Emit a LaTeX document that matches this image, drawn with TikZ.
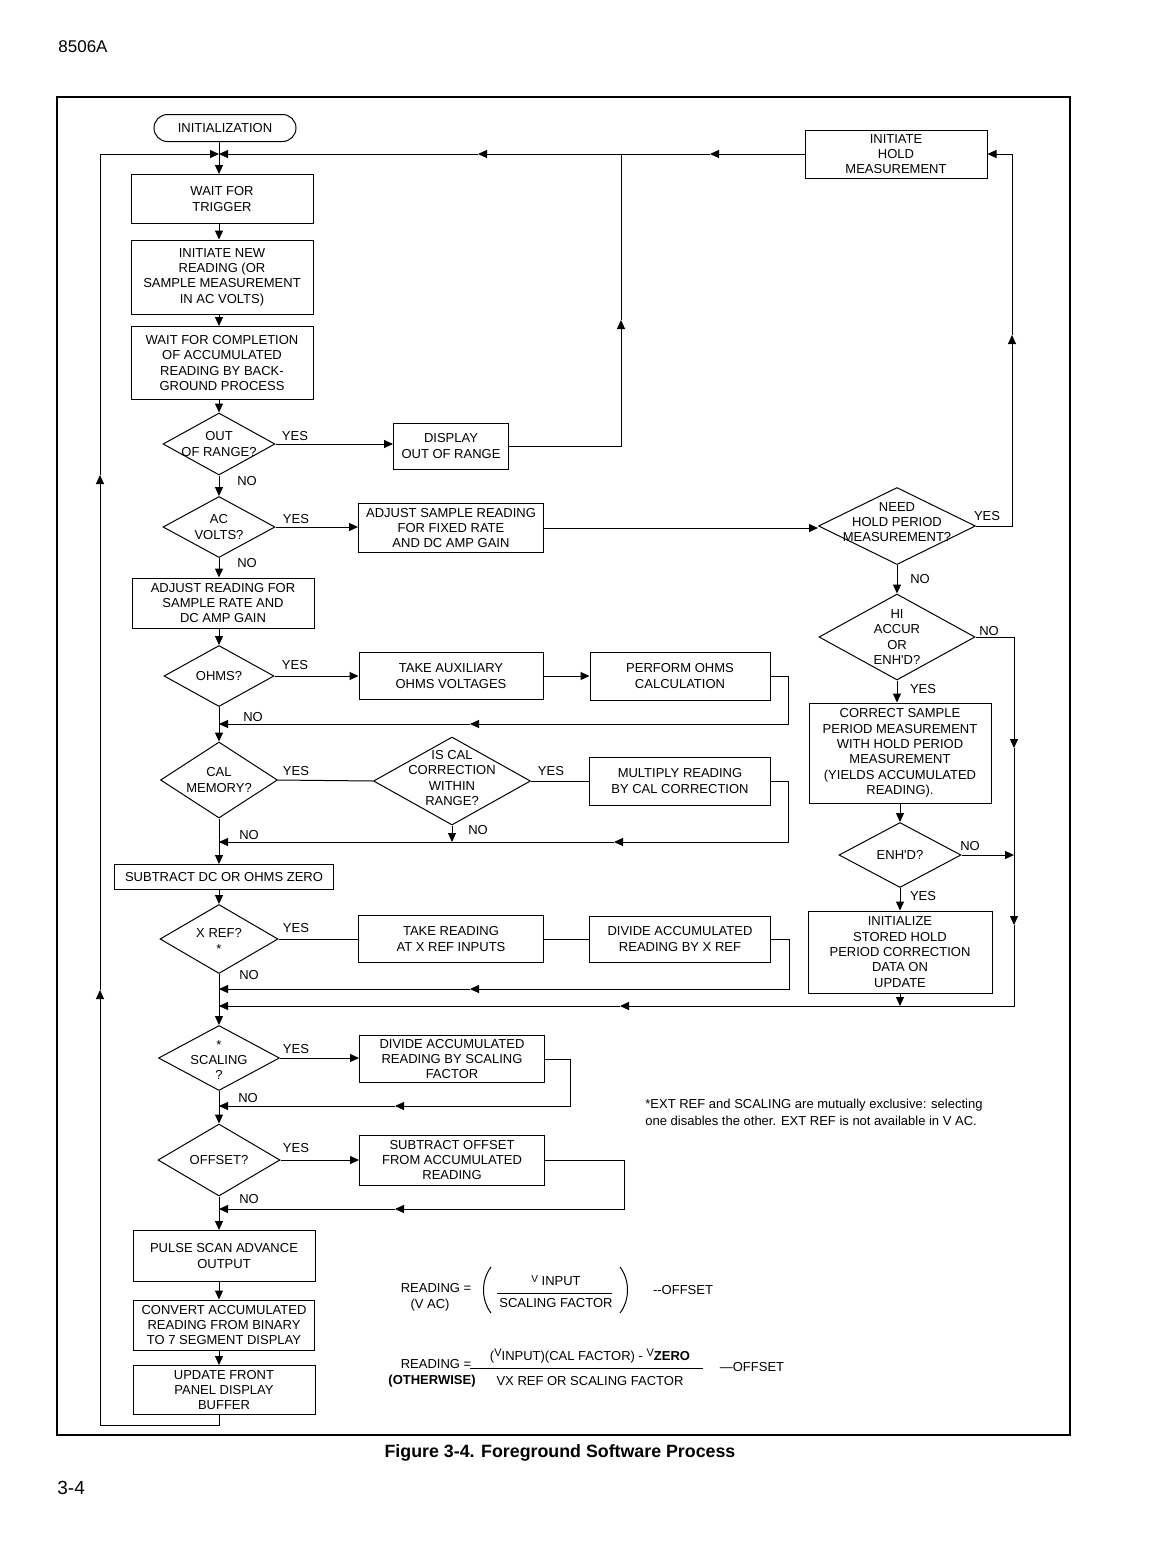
\documentclass[tikz,border=0pt]{standalone}
\usepackage{fontspec}
\newfontfamily\lab{Liberation Sans}
\usetikzlibrary{shapes.geometric,shapes.misc,arrows.meta}
\begin{document}
\begin{tikzpicture}[x=0.5pt,y=-0.5pt,
  every node/.style={font=\lab\fontsize{6.5}{7.7}\selectfont},
  box/.style 2 args={draw, line width=0.5pt, align=center, inner sep=0pt, minimum width=#1*0.5pt, minimum height=#2*0.5pt},
  dia/.style 2 args={draw, diamond, line width=0.5pt, inner sep=0pt, minimum width=#1*0.5pt, minimum height=#2*0.5pt},
  lbl/.style={align=center, inner sep=0pt},
  ln/.style={line width=0.5pt},
  tip/.style={ln, -{Triangle[length=4.5pt,width=4pt]}},
]
\fill[white] (0,0) rectangle (1176,1544);
\path[use as bounding box] (0,0) rectangle (1176,1544);
\draw[line width=0.7pt] (57,97) rectangle (1070,1435);

% header / footer / caption
\node[font=\lab\fontsize{8.5}{10}\selectfont, anchor=west, inner sep=0pt] (hdr) at (58,47) {8506A};
\node[font=\lab\fontsize{9.5}{11}\selectfont, anchor=west, inner sep=0pt] (ftr) at (57,1488) {3-4};
\node[font=\lab\bfseries\fontsize{8.9}{10}\selectfont, inner sep=0pt] (cap) at (560,1453) {Figure 3-4. Foreground Software Process};

\coordinate (col) at (219,0);

% main column
\node[draw, rounded rectangle, ln, minimum width=71pt, minimum height=13.5pt, inner sep=0pt] (init) at (225,128) {INITIALIZATION};
\node[box={182}{49}] (wft) at (222,199) {WAIT FOR\\TRIGGER};
\node[box={182}{74}] (inr) at (222,277) {INITIATE NEW\\READING (OR\\SAMPLE MEASUREMENT\\IN AC VOLTS)};
\node[box={182}{73}] (wfc) at (222,363) {WAIT FOR COMPLETION\\OF ACCUMULATED\\READING BY BACK-\\GROUND PROCESS};
\node[dia={112}{62}] (oor) at (219,444) {};
\node[lbl] (oort) at (oor) {OUT\\OF RANGE?};
\node[box={115}{46}] (dor) at (451,446) {DISPLAY\\OUT OF RANGE};
\node[dia={112}{61}] (acv) at (219,527) {};
\node[lbl] (acvt) at (acv) {AC\\VOLTS?};
\node[box={185}{49}] (asr) at (451,528) {ADJUST SAMPLE READING\\FOR FIXED RATE\\AND DC AMP GAIN};
\node[box={182}{50}] (arf) at (223,603) {ADJUST READING FOR\\SAMPLE RATE AND\\DC AMP GAIN};
\node[dia={110}{61}] (ohm) at (219,676) {};
\node[lbl] (ohmt) at (ohm) {OHMS?};
\node[box={184}{47}] (tao) at (451,676) {TAKE AUXILIARY\\OHMS VOLTAGES};
\node[box={180}{48}] (poc) at (680,676) {PERFORM OHMS\\CALCULATION};
\node[dia={117}{76}] (cal) at (219,780) {};
\node[lbl] (calt) at (cal) {CAL\\MEMORY?};
\node[dia={157}{88}] (isc) at (452,781) {};
\node[lbl] (isct) at (452,778) {IS CAL\\CORRECTION\\WITHIN\\RANGE?};
\node[box={181}{48}] (mrc) at (680,781) {MULTIPLY READING\\BY CAL CORRECTION};
\node[box={219}{25}] (sdz) at (224,877) {SUBTRACT DC OR OHMS ZERO};
\node[dia={118}{69}] (xrf) at (219,939) {};
\node[lbl] (xrft) at (219,941) {X REF?\\*};
\node[box={185}{47}] (trx) at (451,939) {TAKE READING\\AT X REF INPUTS};
\node[box={181}{46}] (dxr) at (680,939) {DIVIDE ACCUMULATED\\READING BY X REF};
\node[dia={121}{65}] (scl) at (219,1058) {};
\node[lbl] (sclt) at (219,1060) {*\\SCALING\\?};
\node[box={185}{47}] (dsf) at (452,1059) {DIVIDE ACCUMULATED\\READING BY SCALING\\FACTOR};
\node[dia={122}{72}] (off) at (219,1160) {};
\node[lbl] (offt) at (off) {OFFSET?};
\node[box={185}{50}] (sof) at (452,1160) {SUBTRACT OFFSET\\FROM ACCUMULATED\\READING};
\node[box={182}{51}] (psa) at (224,1256) {PULSE SCAN ADVANCE\\OUTPUT};
\node[box={181}{50}] (cvt) at (224,1325) {CONVERT ACCUMULATED\\READING FROM BINARY\\TO 7 SEGMENT DISPLAY};
\node[box={182}{49}] (upd) at (224,1390) {UPDATE FRONT\\PANEL DISPLAY\\BUFFER};

% right column
\node[box={182}{48}] (ihm) at (896,154) {INITIATE\\HOLD\\MEASUREMENT};
\node[dia={157}{77}] (nhp) at (897,526) {};
\node[lbl] (nhpt) at (897,522) {NEED\\HOLD PERIOD\\MEASUREMENT?};
\node[dia={156}{86}] (hac) at (897,637) {};
\node[lbl] (hact) at (hac) {HI\\ACCUR\\OR\\ENH'D?};
\node[box={182}{100}] (csp) at (900,753) {CORRECT SAMPLE\\PERIOD MEASUREMENT\\WITH HOLD PERIOD\\MEASUREMENT\\(YIELDS ACCUMULATED\\READING).};
\node[dia={122}{65}] (enh) at (900,855) {};
\node[lbl] (enht) at (enh) {ENH'D?};
\node[box={184}{82}] (ish) at (900,952) {INITIALIZE\\STORED HOLD\\PERIOD CORRECTION\\DATA ON\\UPDATE};

% YES / NO labels
\node[lbl] (l1) at (295,436) {YES};
\node[lbl] (l2) at (247,481) {NO};
\node[lbl] (l3) at (296,519) {YES};
\node[lbl] (l4) at (247,563) {NO};
\node[lbl] (l5) at (295,665) {YES};
\node[lbl] (l6) at (253,717) {NO};
\node[lbl] (l7) at (296,771) {YES};
\node[lbl] (l8) at (249,835) {NO};
\node[lbl] (l9) at (551,771) {YES};
\node[lbl] (l10) at (478,830) {NO};
\node[lbl] (l11) at (296,928) {YES};
\node[lbl] (l12) at (249,975) {NO};
\node[lbl] (l13) at (296,1049) {YES};
\node[lbl] (l14) at (248,1098) {NO};
\node[lbl] (l15) at (296,1148) {YES};
\node[lbl] (l16) at (249,1199) {NO};
\node[lbl] (l17) at (987,516) {YES};
\node[lbl] (l18) at (920,579) {NO};
\node[lbl] (l19) at (989,631) {NO};
\node[lbl] (l20) at (923,689) {YES};
\node[lbl] (l21) at (970,846) {NO};
\node[lbl] (l22) at (923,896) {YES};

% footnote
\node[lbl, anchor=west] (fn1) at (645,1105) {*EXT REF and SCALING are mutually exclusive: selecting};
\node[lbl, anchor=west] (fn2) at (645,1121) {one disables the other. EXT REF is not available in V AC.};

% formula 1
\node[lbl] (r1) at (436,1288) {READING =};
\node[lbl] (r1b) at (430,1305) {(V AC)};
\node[lbl] (r1n) at (556,1281) {\raisebox{1.5pt}{\fontsize{5}{6}\selectfont V} INPUT};
\node[lbl] (r1d) at (556,1303) {SCALING FACTOR};
\node[lbl] (r1o) at (683,1290) {-{}-OFFSET};
\draw[ln] (497,1293) -- (612,1293);
\draw[ln] (491,1267) .. controls (481,1280) and (481,1300) .. (491,1313);
\draw[ln] (620,1267) .. controls (630,1280) and (630,1300) .. (620,1313);

% formula 2
\node[lbl] (r2) at (436,1364) {READING =};
\node[lbl] (r2b) at (432,1381) {\textbf{(OTHERWISE)}};
\node[lbl] (r2n) at (590,1356) {(\raisebox{2pt}{\fontsize{5.5}{6}\selectfont V}INPUT)(CAL FACTOR) - \raisebox{2pt}{\fontsize{5.5}{6}\selectfont V}\textbf{ZERO}};
\node[lbl] (r2d) at (590,1381) {VX REF OR SCALING FACTOR};
\node[lbl] (r2o) at (752,1367) {—OFFSET};
\draw[ln] (470,1368) -- (703,1368);

% ---------- connectors ----------
\coordinate (j0) at (219,154);
\draw[tip] (init.south -| col) -- (col |- wft.north);
\coordinate (L1) at (100,1425);
\coordinate (L2) at (100,990);
\coordinate (L3) at (100,475);
\coordinate (L4) at (100,154);
\draw[tip] (col |- upd.south) |- (L1) -- (L2);
\draw[tip] (L2) -- (L3);
\draw[tip] (L3) -- (L4) -- (j0);

\coordinate (T1) at (710,154);
\coordinate (T2) at (621,154);
\coordinate (T3) at (478,154);
\draw[tip] (ihm.west) -- (T1);
\draw[tip] (T1) -- (T3);
\draw[tip] (T3) -- (j0);
\coordinate (D2) at (621,320);
\draw[tip] (dor.east) -- (dor.east -| T2) -- (D2);
\draw[ln] (D2) -- (T2);

\draw[tip] (col |- wft.south) -- (col |- inr.north);
\draw[tip] (col |- inr.south) -- (col |- wfc.north);
\draw[tip] (col |- wfc.south) -- (oor.north);
\draw[tip] (oor.east) -- (oor.east -| dor.west);
\draw[tip] (oor.south) -- (acv.north);
\draw[tip] (acv.east) -- (acv.east -| asr.west);
\draw[tip] (asr.east) -- (asr.east -| nhp.west);
\draw[tip] (acv.south) -- (col |- arf.north);
\draw[tip] (col |- arf.south) -- (ohm.north);
\draw[tip] (ohm.east) -- (tao.west);
\draw[tip] (tao.east) -- (poc.west);
\coordinate (P1) at (788,724);
\coordinate (P2) at (470,724);
\coordinate (P3) at (219,724);
\draw[tip] (poc.east) -- (poc.east -| P1) -- (P1) -- (P2);
\draw[tip] (P2) -- (P3);
\draw[tip] (ohm.south) -- (cal.north);
\draw[ln] (cal.east) -- (isc.west);
\draw[ln] (isc.east) -- (isc.east -| mrc.west);
\coordinate (M1) at (788,842);
\coordinate (M2) at (614,842);
\coordinate (M3) at (219,842);
\draw[tip] (mrc.east) -- (mrc.east -| M1) -- (M1) -- (M2);
\draw[tip] (M2) -- (M3);
\draw[tip] (isc.south) -- (isc.south |- M3);
\draw[tip] (cal.south) -- (col |- sdz.north);
\draw[tip] (col |- sdz.south) -- (xrf.north);
\draw[ln] (xrf.east) -- (trx.west);
\draw[ln] (trx.east) -- (dxr.west);
\coordinate (X1) at (789,989);
\coordinate (X2) at (470,989);
\coordinate (X3) at (219,989);
\draw[tip] (dxr.east) -- (dxr.east -| X1) -- (X1) -- (X2);
\draw[tip] (X2) -- (X3);
\draw[tip] (xrf.south) -- (scl.north);
\draw[tip] (scl.east) -- (scl.east -| dsf.west);
\coordinate (C1) at (570,1106);
\coordinate (C2) at (395,1106);
\coordinate (C3) at (219,1106);
\draw[tip] (dsf.east) -- (dsf.east -| C1) -- (C1) -- (C2);
\draw[tip] (C2) -- (C3);
\draw[tip] (scl.south) -- (off.north);
\draw[tip] (off.east) -- (sof.west);
\coordinate (F1) at (624,1209);
\coordinate (F2) at (395,1209);
\coordinate (F3) at (219,1209);
\draw[tip] (sof.east) -- (sof.east -| F1) -- (F1) -- (F2);
\draw[tip] (F2) -- (F3);
\draw[tip] (off.south) -- (col |- psa.north);
\draw[tip] (col |- psa.south) -- (col |- cvt.north);
\draw[tip] (col |- cvt.south) -- (col |- upd.north);

% right column connectors
\coordinate (R1) at (1012,335);
\coordinate (R0) at (1012,154);
\draw[tip] (nhp.east) -- (nhp.east -| R1) -- (R1);
\draw[tip] (R1) -- (R0) -- (ihm.east);
\draw[tip] (nhp.south) -- (hac.north);
\draw[tip] (hac.south) -- (hac.south |- csp.north);
\draw[tip] (csp.south) -- (enh.north);
\draw[tip] (enh.south) -- (ish.north);
\coordinate (S1) at (1014,748);
\coordinate (S2) at (1014,925);
\coordinate (S3) at (1014,1006);
\coordinate (B1) at (620,1006);
\coordinate (B0) at (219,1006);
\draw[tip] (hac.east) -- (hac.east -| S1) -- (S1);
\draw[tip] (S1) -- (S2);
\draw[tip] (S2) -- (S3) -- (B1);
\draw[tip] (B1) -- (B0);
\draw[tip] (enh.east) -- (enh.east -| S1);
\draw[tip] (ish.south) -- (ish.south |- S3);
\end{tikzpicture}
\end{document}
